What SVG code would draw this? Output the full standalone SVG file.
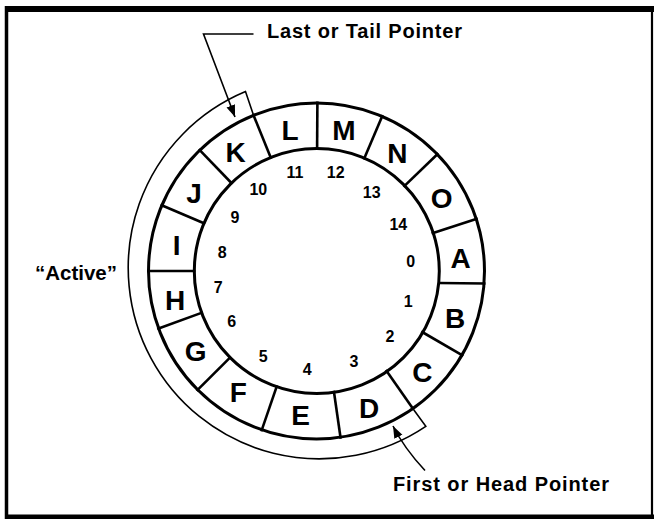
<svg xmlns="http://www.w3.org/2000/svg" width="654" height="519" viewBox="0 0 654 519">
  <style>
    .frame { stroke: #000; fill: none; }
    .ring { stroke: #000; stroke-width: 3; fill: none; }
    .div { stroke: #000; stroke-width: 2.6; fill: none; }
    .conn { stroke: #000; stroke-width: 1.6; fill: none; }
    .cell { font-family: "Liberation Sans", Arial, sans-serif; font-weight: bold; font-size: 28px; fill: #000; text-anchor: middle; }
    .idx { font-family: "Liberation Sans", Arial, sans-serif; font-weight: bold; font-size: 16px; fill: #000; text-anchor: middle; }
    .lbl { font-family: "Liberation Sans", Arial, sans-serif; font-weight: bold; font-size: 20px; fill: #000; }
  </style>
  <defs>
    <marker id="arrow" markerUnits="userSpaceOnUse" markerWidth="13" markerHeight="10" refX="12" refY="4.5" orient="auto">
      <path d="M0,0 L12,4.5 L0,9 Z" fill="#000"/>
    </marker>
  </defs>
  <rect width="654" height="519" fill="#fff"/>

  <g id="frame">
    <line class="frame" x1="5" y1="9" x2="654" y2="9" stroke-width="6"/>
    <line class="frame" x1="6.5" y1="6" x2="6.5" y2="519" stroke-width="3.5"/>
    <line class="frame" x1="652" y1="6" x2="652" y2="519" stroke-width="2.2"/>
    <line class="frame" x1="5" y1="516.8" x2="654" y2="516.8" stroke-width="4.6"/>
  </g>

  <g id="ring">
    <circle class="ring" cx="316.5" cy="271" r="168"/>
    <circle class="ring" cx="316.8" cy="271" r="122.5"/>
    <line class="div" x1="271.2" y1="158.8" x2="253.0" y2="113.9"/>
    <line class="div" x1="317.1" y1="150" x2="317.4" y2="101.5"/>
    <line class="div" x1="363.8" y1="159.6" x2="382.7" y2="115.0"/>
    <line class="div" x1="403.5" y1="186.9" x2="438.4" y2="153.3"/>
    <line class="div" x1="431.6" y1="233.6" x2="477.7" y2="218.6"/>
    <line class="div" x1="438.5" y1="283" x2="485.5" y2="283.5"/>
    <line class="div" x1="421.3" y1="331.5" x2="463.3" y2="355.8"/>
    <line class="div" x1="385.9" y1="370.1" x2="413.7" y2="409.8"/>
    <line class="div" x1="333.8" y1="390.8" x2="340.7" y2="438.8"/>
    <line class="div" x1="277.1" y1="385.4" x2="261.3" y2="431.3"/>
    <line class="div" x1="231.0" y1="356.6" x2="196.6" y2="390.9"/>
    <line class="div" x1="202.8" y1="312.4" x2="157.2" y2="329.0"/>
    <line class="div" x1="195.5" y1="271" x2="147" y2="271"/>
    <line class="div" x1="205.1" y1="223.7" x2="160.5" y2="204.8"/>
    <line class="div" x1="232.4" y1="184.0" x2="198.8" y2="149.1"/>
  </g>

  <g id="cell-A"><text class="cell" x="460.7" y="268.3">A</text><text class="idx" x="410.7" y="266.7">0</text></g>
  <g id="cell-B"><text class="cell" x="455" y="328">B</text><text class="idx" x="408.3" y="306.7">1</text></g>
  <g id="cell-C"><text class="cell" x="422.3" y="381.7">C</text><text class="idx" x="390" y="341.7">2</text></g>
  <g id="cell-D"><text class="cell" x="369" y="418.3">D</text><text class="idx" x="354" y="366.7">3</text></g>
  <g id="cell-E"><text class="cell" x="300.7" y="425">E</text><text class="idx" x="307.3" y="375">4</text></g>
  <g id="cell-F"><text class="cell" x="238.3" y="401.7">F</text><text class="idx" x="263.3" y="361.7">5</text></g>
  <g id="cell-G"><text class="cell" x="195.7" y="361">G</text><text class="idx" x="231.7" y="326.7">6</text></g>
  <g id="cell-H"><text class="cell" x="175" y="310">H</text><text class="idx" x="218.3" y="293.3">7</text></g>
  <g id="cell-I"><text class="cell" x="176.7" y="255">I</text><text class="idx" x="222.3" y="258.3">8</text></g>
  <g id="cell-J"><text class="cell" x="194" y="203.3">J</text><text class="idx" x="235" y="223.3">9</text></g>
  <g id="cell-K"><text class="cell" x="235.7" y="161.7">K</text><text class="idx" x="258.3" y="195">10</text></g>
  <g id="cell-L"><text class="cell" x="290" y="140">L</text><text class="idx" x="295" y="178.3">11</text></g>
  <g id="cell-M"><text class="cell" x="344" y="140">M</text><text class="idx" x="335.7" y="178.3">12</text></g>
  <g id="cell-N"><text class="cell" x="397.3" y="163.3">N</text><text class="idx" x="371.7" y="198.3">13</text></g>
  <g id="cell-O"><text class="cell" x="441.7" y="207.5">O</text><text class="idx" x="398.3" y="230">14</text></g>

  <g id="label-tail"><text class="lbl" x="267" y="37.5" textLength="195" lengthAdjust="spacing">Last or Tail Pointer</text></g>
  <g id="label-head"><text class="lbl" x="393" y="491" textLength="216" lengthAdjust="spacing">First or Head Pointer</text></g>
  <g id="label-active"><text class="lbl" x="35" y="280" textLength="82" lengthAdjust="spacingAndGlyphs">“Active”</text></g>

  <g id="connectors">
    <path class="conn" d="M 253.2 114.3 L 245.5 91.6 A 191 191 0 1 0 425.8 426.3 L 413.7 409.8"/>
    <path class="conn" d="M 253.5 34 L 203.5 34 L 235 117" marker-end="url(#arrow)"/>
    <path class="conn" d="M 425 470.5 Q 404 448 393 426" marker-end="url(#arrow)"/>
  </g>
</svg>
